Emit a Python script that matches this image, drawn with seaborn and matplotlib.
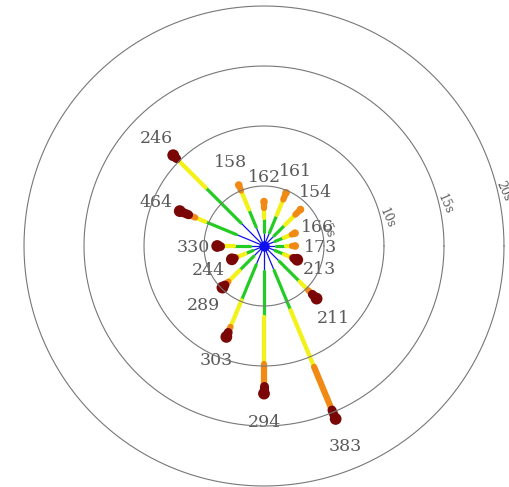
import numpy as np
import pandas as pd
import seaborn as sns
import matplotlib.pyplot as plt

sns.set_style("white")
plt.rcParams['font.family'] = ['DejaVu Serif']

# one spoke per direction (16 directions, counter-clockwise from east)
angles_deg = [0, 22.5, 45, 67.5, 90, 112.5, 135, 157.5,
              180, 202.5, 225, 247.5, 270, 292.5, 315, 337.5]
labels = ['173', '166', '154', '161', '162', '158', '246', '464',
          '330', '244', '289', '303', '294', '383', '211', '213']

# radius where each colour stage ends (units of the rings)
blue_end = [1.0, 1.0, 1.2, 1.2, 1.2, 1.7, 2.7, 2.5,
            1.2, 1.0, 1.2, 1.7, 2.1, 2.2, 1.8, 1.0]
green_end = [1.8, 1.8, 2.5, 2.8, 2.3, 3.3, 6.9, 5.3,
             2.5, 1.7, 2.9, 4.9, 5.9, 5.8, 4.2, 1.8]
yellow_end = [2.3, 2.5, 3.7, 4.2, 3.2, 5.0, 10.2, 6.2,
              3.5, 2.5, 4.2, 7.3, 9.8, 10.9, 5.2, 2.5]
orange_end = [2.6, 2.8, 4.3, 4.8, 3.7, 5.5, 10.3, 6.8,
              3.7, 2.7, 4.6, 7.8, 11.7, 14.8, 5.7, 2.7]
spoke_end = [2.6, 2.8, 4.3, 4.8, 3.7, 5.5, 10.7, 7.6,
             3.9, 2.9, 4.9, 8.2, 12.3, 15.6, 6.2, 3.0]
end_kind = ['orange'] * 6 + ['darkred'] * 10

ring_values = [5, 10, 15, 20]
ring_labels = ['5s', '10s', '15s', '20s']
r_max = 20

stage_colors = {'blue': '#1010ee', 'green': '#22cc22', 'yellow': '#f2f21a',
                'orange': '#f08a14', 'darkred': '#7a0606'}
stage_widths = {'blue': 0.9, 'green': 2.3, 'yellow': 3.1, 'orange': 4.5, 'darkred': 6.5}

# label offsets from the end dot, in points
label_offsets = [(18, -1), (16, 4), (11, 12), (7, 15), (0, 17), (-6, 16),
                 (-12, 12), (-17, 6), (-17, -1), (-17, -8), (-14, -13), (-7, -17),
                 (0, -21), (7, -20), (12, -14), (16, -7)]

ends = pd.DataFrame({'theta': np.deg2rad(angles_deg), 'r': spoke_end, 'kind': end_kind})

fig = plt.figure(figsize=(5.09, 4.87), dpi=100)
box = [24 / 509, 1 / 487, 480 / 509, 480 / 487]
ax = fig.add_axes(box, projection='polar')

# spokes, one coloured piece per stage
for stage_i, st in enumerate(stage_colors):
    for i, a in enumerate(angles_deg):
        bounds = [0, blue_end[i], green_end[i], yellow_end[i], orange_end[i], spoke_end[i]]
        if st == 'darkred' and end_kind[i] != 'darkred':
            continue
        th = np.deg2rad(a)
        ax.plot([th, th], [bounds[stage_i], bounds[stage_i + 1]], color=stage_colors[st],
                linewidth=stage_widths[st], solid_capstyle='round', zorder=2 + stage_i * 0.1)

sns.scatterplot(data=ends, x='theta', y='r', hue='kind', size='kind',
                palette={'orange': stage_colors['orange'], 'darkred': stage_colors['darkred']},
                sizes={'orange': 30, 'darkred': 72}, linewidth=0, legend=False, ax=ax, zorder=5)
ax.scatter([0], [0], s=55, color='#1010ee', zorder=5.2, linewidth=0)

for i, lab in enumerate(labels):
    ax.annotate(lab, (np.deg2rad(angles_deg[i]), spoke_end[i]), xytext=label_offsets[i],
                textcoords='offset points', ha='center', va='center',
                fontsize=12.5, color='#5a5a5a', zorder=7)

for v, lab in zip(ring_values, ring_labels):
    ax.text(np.deg2rad(13), v + 0.5, lab, rotation=-66, ha='center', va='center',
            fontsize=8.5, color='#5a5a5a', zorder=7)

ax.set_ylim(0, r_max)
ax.set_yticks([])
ax.set_xticks([])
ax.set_xlabel('')
ax.set_ylabel('')
ax.grid(False)
ax.spines['polar'].set_visible(False)

# rings on a transparent square overlay with the same centre and scale
ring_ax = fig.add_axes(box, facecolor='none')
t = np.linspace(0, 2 * np.pi, 361)
for v in ring_values:
    ring_ax.plot(v * np.cos(t), v * np.sin(t), color='#777777', linewidth=0.8, clip_on=False)
ring_ax.set_xlim(-r_max, r_max)
ring_ax.set_ylim(-r_max, r_max)
ring_ax.set_axis_off()

fig.savefig('out.png', dpi=100)
